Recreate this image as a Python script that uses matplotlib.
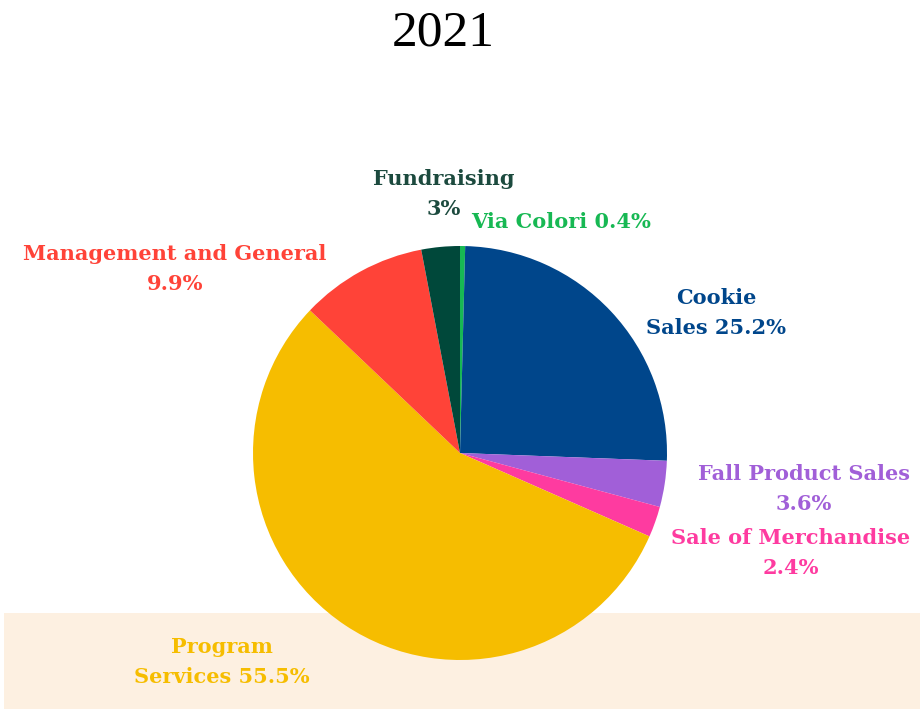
import matplotlib.pyplot as plt
from matplotlib.patches import Rectangle

# ------------------------------------------------------------
# Data (clockwise from 12 o'clock)
# ------------------------------------------------------------
categories = ["Via Colori", "Cookie Sales", "Fall Product Sales",
              "Sale of Merchandise", "Program Services",
              "Management and General", "Fundraising"]
shares = [0.4, 25.2, 3.6, 2.4, 55.5, 9.9, 3.0]
colors = ["#17b853", "#00468b", "#a15fd8", "#fe3ba0",
          "#f6bd00", "#ff4338", "#00483a"]

# label text, position (pixels, y from top), colour
label_texts = ["Via Colori 0.4%", "Cookie\nSales 25.2%", "Fall Product Sales\n3.6%",
               "Sale of Merchandise\n2.4%", "Program\nServices 55.5%",
               "Management and General\n9.9%", "Fundraising\n3%"]
label_pos = [(561, 222), (716, 313), (804, 489), (791, 553),
             (222, 662), (175, 269), (444, 194)]
label_colors = ["#17b853", "#00468b", "#a15fd8", "#fe3ba0",
                "#f6bd00", "#ff4338", "#1c4a3e"]

W, H = 922, 709

fig = plt.figure(figsize=(W / 100, H / 100), dpi=100)
ax = fig.add_axes([0, 0, 1, 1])

# light band at the bottom
ax.add_patch(Rectangle((4, 0), 916, H - 613, facecolor="#fdf0e1",
                       edgecolor="none", zorder=0))

ax.pie(shares, colors=colors, startangle=90, counterclock=False,
       center=(460, H - 453), radius=207,
       wedgeprops=dict(linewidth=0), frame=True)

for txt, (x, y), c in zip(label_texts, label_pos, label_colors):
    ax.text(x, H - y, txt, color=c, ha="center", va="center",
            multialignment="center", fontsize=15, fontweight="bold",
            family="DejaVu Serif", linespacing=1.65, zorder=5)

ax.text(443, H - 33, "2021", ha="center", va="center", fontsize=37,
        family="Liberation Serif", color="black")

ax.set_xlim(0, W)
ax.set_ylim(0, H)
ax.set_aspect("equal")
ax.axis("off")

fig.savefig("out.png", dpi=100, facecolor="white")
